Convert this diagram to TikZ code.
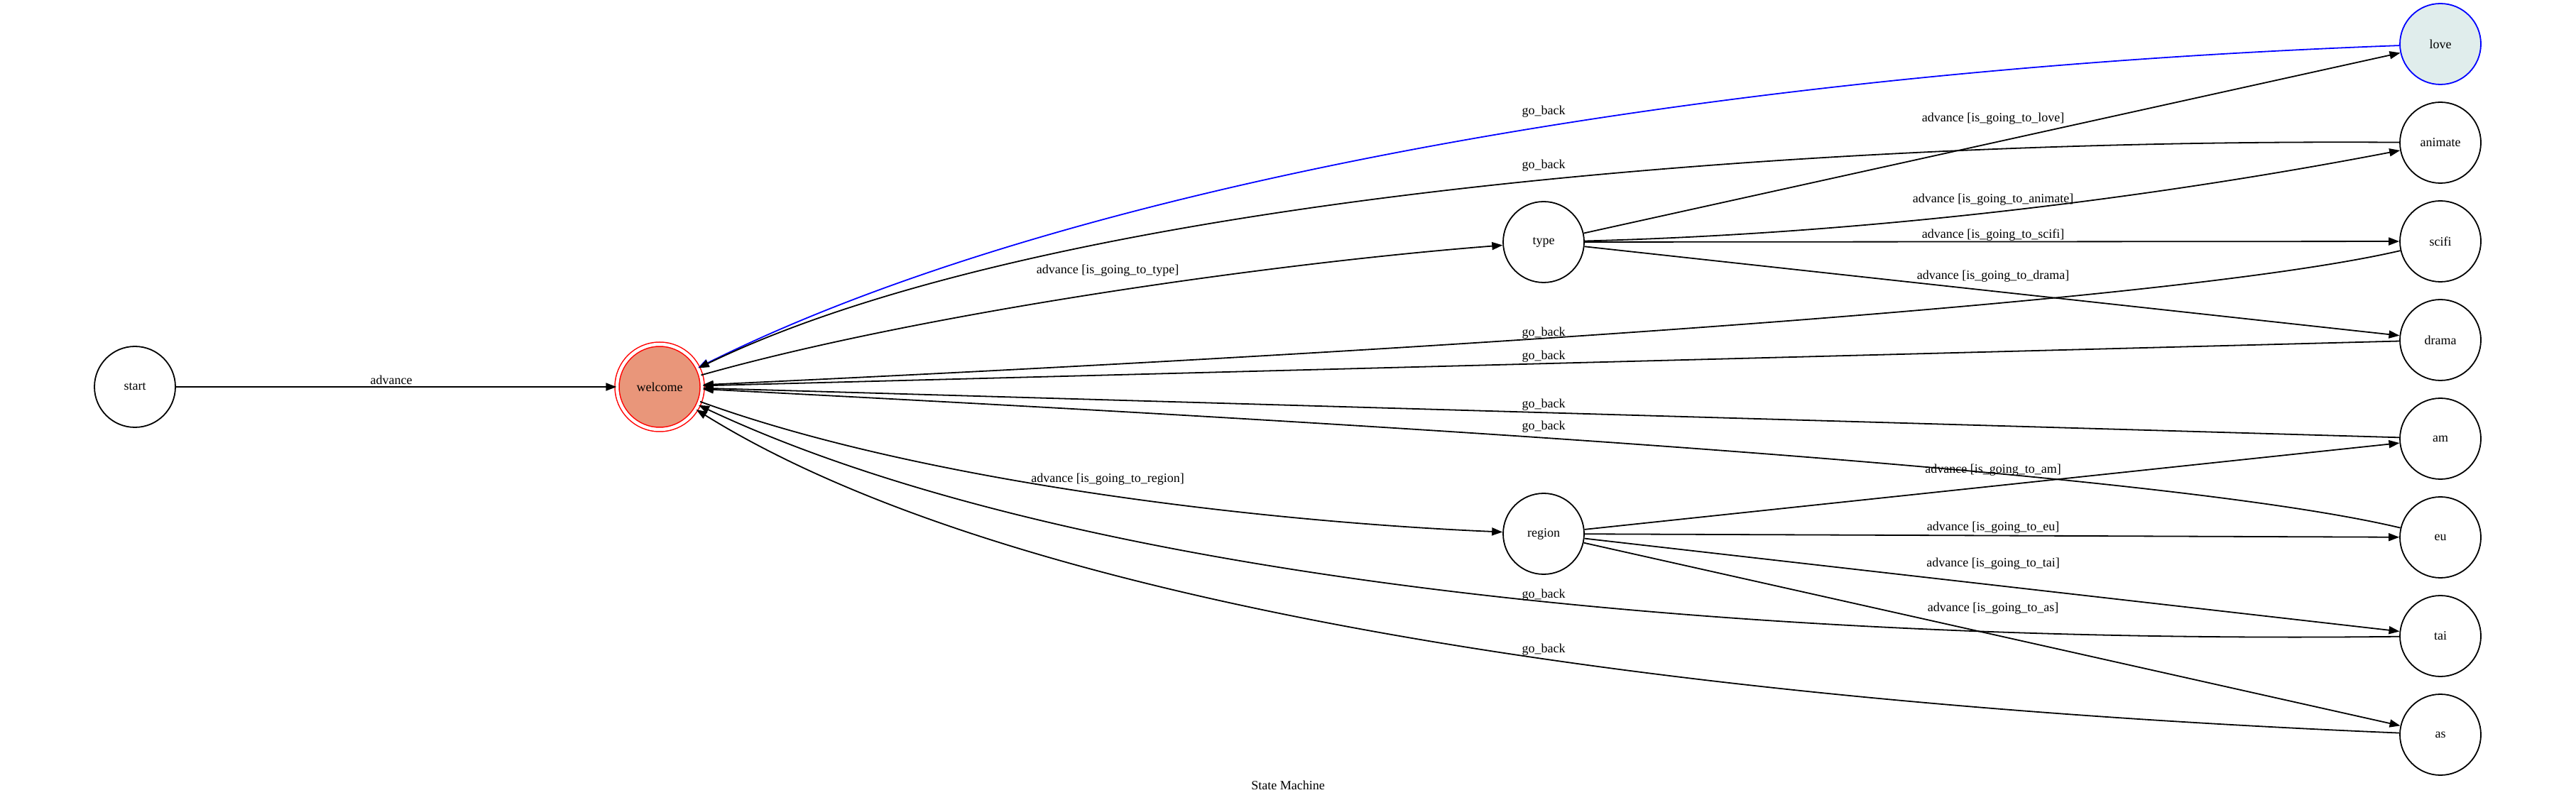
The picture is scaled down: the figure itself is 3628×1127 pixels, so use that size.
\documentclass[tikz,border=0pt]{standalone}
\usepackage{fontspec}
\setmainfont{Liberation Serif}
\usetikzlibrary{arrows.meta}
\definecolor{welcomefill}{HTML}{E9967A}
\definecolor{lovefill}{HTML}{E0EDEC}

\begin{document}
\begin{tikzpicture}[
    x=0.5pt, y=-0.5pt,
    every node/.style={font=\fontsize{9pt}{10.8pt}\selectfont},
    state/.style={circle, draw=black, line width=0.9pt, minimum size=57pt, inner sep=0pt},
    accept/.style={circle, draw=red, fill=welcomefill, double=white, double distance=2.25pt, line width=0.75pt, minimum size=60pt, inner sep=0pt},
    lbl/.style={inner sep=0pt},
    arrow/.style={-{Triangle[length=7.5pt,width=5.5pt]}, draw=black, line width=0.9pt}
]
    \useasboundingbox (0,0) rectangle (3628,1127);

    % states
    \node (start) [state] at (190,545) {start};
    \node (welcome) [accept] at (929,545) {welcome};
    \node (type) [state] at (2174,341) {type};
    \node (region) [state] at (2174,752) {region};
    \node (love) [state, draw=blue, fill=lovefill] at (3437,62) {love};
    \node (animate) [state] at (3437,201) {animate};
    \node (scifi) [state] at (3437,340) {scifi};
    \node (drama) [state] at (3437,479) {drama};
    \node (am) [state] at (3437,618) {am};
    \node (eu) [state] at (3437,757) {eu};
    \node (tai) [state] at (3437,896) {tai};
    \node (as) [state] at (3437,1035) {as};

    % transition labels
    \node (adv) [lbl] at (551,535) {advance};
    \node (advtype) [lbl] at (1560,381) {advance [is\_going\_to\_type]};
    \node (advregion) [lbl] at (1560,675) {advance [is\_going\_to\_region]};
    \node (advlove) [lbl] at (2807,167) {advance [is\_going\_to\_love]};
    \node (advanimate) [lbl] at (2807,281) {advance [is\_going\_to\_animate]};
    \node (advscifi) [lbl] at (2807,331) {advance [is\_going\_to\_scifi]};
    \node (advdrama) [lbl] at (2807,389) {advance [is\_going\_to\_drama]};
    \node (advam) [lbl] at (2807,662) {advance [is\_going\_to\_am]};
    \node (adveu) [lbl] at (2807,743) {advance [is\_going\_to\_eu]};
    \node (advtai) [lbl] at (2807,794) {advance [is\_going\_to\_tai]};
    \node (advas) [lbl] at (2807,857) {advance [is\_going\_to\_as]};
    \node (backlove) [lbl] at (2174,157) {go\_back};
    \node (backanimate) [lbl] at (2174,233) {go\_back};
    \node (backscifi) [lbl] at (2174,469) {go\_back};
    \node (backdrama) [lbl] at (2174,502) {go\_back};
    \node (backam) [lbl] at (2174,570) {go\_back};
    \node (backeu) [lbl] at (2174,601) {go\_back};
    \node (backtai) [lbl] at (2174,838) {go\_back};
    \node (backas) [lbl] at (2174,915) {go\_back};

    \node (title) at (1814,1106) {State Machine};

    % advance
    \draw [arrow] (start) -- (welcome);
    \draw [arrow] (welcome) .. controls (1300,440) and (1800,370) .. (type);
    \draw [arrow] (welcome) .. controls (1300,680) and (1780,735) .. (region);
    \draw [arrow] (type) -- (love);
    \draw [arrow] (type) .. controls (2600,330) and (3000,285) .. (animate);
    \draw [arrow] (type) -- (scifi);
    \draw [arrow] (type) -- (drama);
    \draw [arrow] (region) -- (am);
    \draw [arrow] (region) -- (eu);
    \draw [arrow] (region) -- (tai);
    \draw [arrow] (region) -- (as);

    % go_back
    \draw [arrow, draw=blue] (love) .. controls (2400,100) and (1500,260) .. (welcome);
    \draw [arrow] (animate) .. controls (2600,195) and (1500,268) .. (welcome);
    \draw [arrow] (scifi) .. controls (3050,430) and (1900,500) .. (welcome);
    \draw [arrow] (drama) -- (welcome);
    \draw [arrow] (am) -- (welcome);
    \draw [arrow] (eu) .. controls (3050,665) and (2000,600) .. (welcome);
    \draw [arrow] (tai) .. controls (2700,905) and (1600,860) .. (welcome);
    \draw [arrow] (as) .. controls (2600,1000) and (1500,900) .. (welcome);
\end{tikzpicture}
\end{document}
